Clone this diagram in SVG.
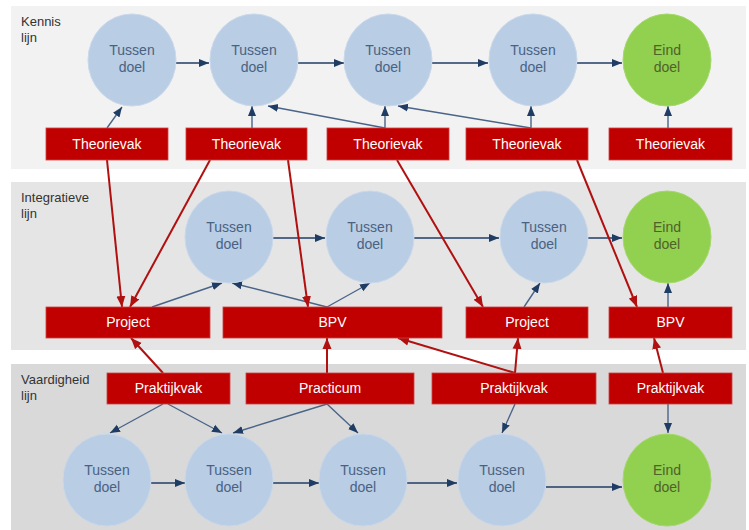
<svg xmlns="http://www.w3.org/2000/svg" width="749" height="530" viewBox="0 0 749 530">
<style>
.band{stroke:none}
.lbl{font-family:"Liberation Sans",Arial,sans-serif;font-size:13px;fill:#333}
.tc{fill:#b9cde5;stroke:#c9d8ea;stroke-width:1}
.ec{fill:#92d050;stroke:#a3d86a;stroke-width:1}
.ct{font-family:"Liberation Sans",Arial,sans-serif;font-size:14px;fill:#4a6282;text-anchor:middle}
.et{font-family:"Liberation Sans",Arial,sans-serif;font-size:14px;fill:#4f6228;text-anchor:middle}
.box{fill:#c00000;stroke:#d04040;stroke-width:0.8}
.bt{font-family:"Liberation Sans",Arial,sans-serif;font-size:14px;fill:#ffffff;text-anchor:middle}
.nv{stroke:#1f3c64;stroke-width:1.4;fill:none;marker-end:url(#an)}
.nv2{stroke:#4a6488;stroke-width:1.4;fill:none;marker-end:url(#an)}
.rd{stroke:#b01010;stroke-width:2;fill:none;marker-end:url(#ar)}
</style>
<defs>
<marker id="an" markerUnits="userSpaceOnUse" markerWidth="10" markerHeight="10" viewBox="0 0 10 10" refX="10" refY="5" orient="auto">
<path d="M0,1 L10,5 L0,9 z" fill="#1f3c64"/>
</marker>
<marker id="ar" markerUnits="userSpaceOnUse" markerWidth="11" markerHeight="10" viewBox="0 0 11 10" refX="11" refY="5" orient="auto">
<path d="M0,0.5 L11,5 L0,9.5 z" fill="#b01010"/>
</marker>
</defs>
<rect width="749" height="530" fill="#ffffff"/>
<rect class="band" x="11" y="6" width="735" height="163" fill="#f2f2f2"/>
<rect class="band" x="11" y="182" width="735" height="168" fill="#e5e5e5"/>
<rect class="band" x="11" y="364" width="735" height="166" fill="#d9d9d9"/>
<text class="lbl" x="21" y="26">Kennis</text>
<text class="lbl" x="21" y="42">lijn</text>
<text class="lbl" x="21" y="202">Integratieve</text>
<text class="lbl" x="21" y="218">lijn</text>
<text class="lbl" x="21" y="384">Vaardigheid</text>
<text class="lbl" x="21" y="400">lijn</text>

<g id="connectors">
<!-- top horizontal -->
<line class="nv" x1="176" y1="63" x2="209" y2="63"/>
<line class="nv" x1="298" y1="63" x2="344" y2="63"/>
<line class="nv" x1="432" y1="63" x2="488" y2="63"/>
<line class="nv" x1="577" y1="63" x2="622" y2="63"/>
<!-- top up -->
<line class="nv2" x1="107" y1="128" x2="122" y2="107"/>
<line class="nv2" x1="252" y1="128" x2="252" y2="106"/>
<line class="nv2" x1="385" y1="128" x2="268" y2="106"/>
<line class="nv2" x1="385" y1="128" x2="385" y2="106"/>
<line class="nv2" x1="531" y1="128" x2="398" y2="106"/>
<line class="nv2" x1="531" y1="128" x2="531" y2="106"/>
<line class="nv2" x1="668" y1="128" x2="668" y2="106"/>
<!-- middle horizontal -->
<line class="nv" x1="273" y1="238" x2="325" y2="238"/>
<line class="nv" x1="414" y1="238" x2="499" y2="238"/>
<line class="nv" x1="588" y1="238" x2="622" y2="238"/>
<!-- middle up -->
<line class="nv2" x1="152" y1="307" x2="222" y2="283"/>
<line class="nv2" x1="327" y1="307" x2="232" y2="283"/>
<line class="nv2" x1="327" y1="307" x2="370" y2="283"/>
<line class="nv2" x1="524" y1="307" x2="540" y2="283"/>
<line class="nv2" x1="668" y1="307" x2="668" y2="283"/>
<!-- bottom horizontal -->
<line class="nv" x1="151" y1="483" x2="185" y2="483"/>
<line class="nv" x1="273" y1="483" x2="319" y2="483"/>
<line class="nv" x1="407" y1="483" x2="457" y2="483"/>
<line class="nv" x1="546" y1="487" x2="622" y2="487"/>
<!-- bottom down -->
<line class="nv2" x1="163" y1="404" x2="110" y2="433"/>
<line class="nv2" x1="168" y1="404" x2="222" y2="433"/>
<line class="nv2" x1="327" y1="404" x2="233" y2="433"/>
<line class="nv2" x1="327" y1="404" x2="358" y2="433"/>
<line class="nv2" x1="515" y1="404" x2="502" y2="433"/>
<line class="nv2" x1="668" y1="404" x2="668" y2="433"/>
<!-- red -->
<line class="rd" x1="107" y1="160" x2="122" y2="307"/>
<line class="rd" x1="210" y1="160" x2="130" y2="307"/>
<line class="rd" x1="288" y1="160" x2="308" y2="307"/>
<line class="rd" x1="397" y1="160" x2="483" y2="307"/>
<line class="rd" x1="577" y1="160" x2="637" y2="307"/>
<line class="rd" x1="163" y1="373" x2="131" y2="338"/>
<line class="rd" x1="327" y1="373" x2="327" y2="338"/>
<line class="rd" x1="515" y1="373" x2="398" y2="338"/>
<line class="rd" x1="515" y1="373" x2="518" y2="338"/>
<line class="rd" x1="663" y1="373" x2="654" y2="338"/>
</g>

<!-- top circles -->
<g id="k1"><ellipse class="tc" cx="132" cy="60" rx="44" ry="46"/><text class="ct" x="132" y="55">Tussen</text><text class="ct" x="132" y="72">doel</text></g>
<g id="k2"><ellipse class="tc" cx="254" cy="60" rx="44" ry="46"/><text class="ct" x="254" y="55">Tussen</text><text class="ct" x="254" y="72">doel</text></g>
<g id="k3"><ellipse class="tc" cx="388" cy="60" rx="44" ry="46"/><text class="ct" x="388" y="55">Tussen</text><text class="ct" x="388" y="72">doel</text></g>
<g id="k4"><ellipse class="tc" cx="533" cy="60" rx="44" ry="46"/><text class="ct" x="533" y="55">Tussen</text><text class="ct" x="533" y="72">doel</text></g>
<g id="k5"><ellipse class="ec" cx="667" cy="60" rx="44" ry="46"/><text class="et" x="667" y="55">Eind</text><text class="et" x="667" y="72">doel</text></g>
<!-- top boxes -->
<g id="t1"><rect class="box" x="46" y="128" width="122" height="32"/><text class="bt" x="107" y="149">Theorievak</text></g>
<g id="t2"><rect class="box" x="186" y="128" width="121" height="32"/><text class="bt" x="246.5" y="149">Theorievak</text></g>
<g id="t3"><rect class="box" x="327" y="128" width="122" height="32"/><text class="bt" x="388" y="149">Theorievak</text></g>
<g id="t4"><rect class="box" x="466" y="128" width="122" height="32"/><text class="bt" x="527" y="149">Theorievak</text></g>
<g id="t5"><rect class="box" x="609" y="128" width="123" height="32"/><text class="bt" x="670.5" y="149">Theorievak</text></g>

<!-- middle circles -->
<g id="i1"><ellipse class="tc" cx="229" cy="237" rx="44" ry="46"/><text class="ct" x="229" y="232">Tussen</text><text class="ct" x="229" y="249">doel</text></g>
<g id="i2"><ellipse class="tc" cx="370" cy="237" rx="44" ry="46"/><text class="ct" x="370" y="232">Tussen</text><text class="ct" x="370" y="249">doel</text></g>
<g id="i3"><ellipse class="tc" cx="544" cy="237" rx="44" ry="46"/><text class="ct" x="544" y="232">Tussen</text><text class="ct" x="544" y="249">doel</text></g>
<g id="i4"><ellipse class="ec" cx="667" cy="237" rx="44" ry="46"/><text class="et" x="667" y="232">Eind</text><text class="et" x="667" y="249">doel</text></g>
<!-- middle boxes -->
<g id="p1"><rect class="box" x="46" y="307" width="164" height="31"/><text class="bt" x="128" y="327">Project</text></g>
<g id="b1"><rect class="box" x="223" y="307" width="219" height="31"/><text class="bt" x="332.5" y="327">BPV</text></g>
<g id="p2"><rect class="box" x="466" y="307" width="122" height="31"/><text class="bt" x="527" y="327">Project</text></g>
<g id="b2"><rect class="box" x="609" y="307" width="123" height="31"/><text class="bt" x="670.5" y="327">BPV</text></g>

<!-- bottom boxes -->
<g id="v1"><rect class="box" x="107" y="373" width="123" height="31"/><text class="bt" x="168.5" y="393">Praktijkvak</text></g>
<g id="v2"><rect class="box" x="246" y="373" width="168" height="31"/><text class="bt" x="330" y="393">Practicum</text></g>
<g id="v3"><rect class="box" x="432" y="373" width="164" height="31"/><text class="bt" x="514" y="393">Praktijkvak</text></g>
<g id="v4"><rect class="box" x="609" y="373" width="123" height="31"/><text class="bt" x="670.5" y="393">Praktijkvak</text></g>
<!-- bottom circles -->
<g id="d1"><ellipse class="tc" cx="107" cy="480" rx="44" ry="46"/><text class="ct" x="107" y="475">Tussen</text><text class="ct" x="107" y="492">doel</text></g>
<g id="d2"><ellipse class="tc" cx="229" cy="480" rx="44" ry="46"/><text class="ct" x="229" y="475">Tussen</text><text class="ct" x="229" y="492">doel</text></g>
<g id="d3"><ellipse class="tc" cx="363" cy="480" rx="44" ry="46"/><text class="ct" x="363" y="475">Tussen</text><text class="ct" x="363" y="492">doel</text></g>
<g id="d4"><ellipse class="tc" cx="502" cy="480" rx="44" ry="46"/><text class="ct" x="502" y="475">Tussen</text><text class="ct" x="502" y="492">doel</text></g>
<g id="d5"><ellipse class="ec" cx="667" cy="480" rx="44" ry="46"/><text class="et" x="667" y="475">Eind</text><text class="et" x="667" y="492">doel</text></g>
</svg>
